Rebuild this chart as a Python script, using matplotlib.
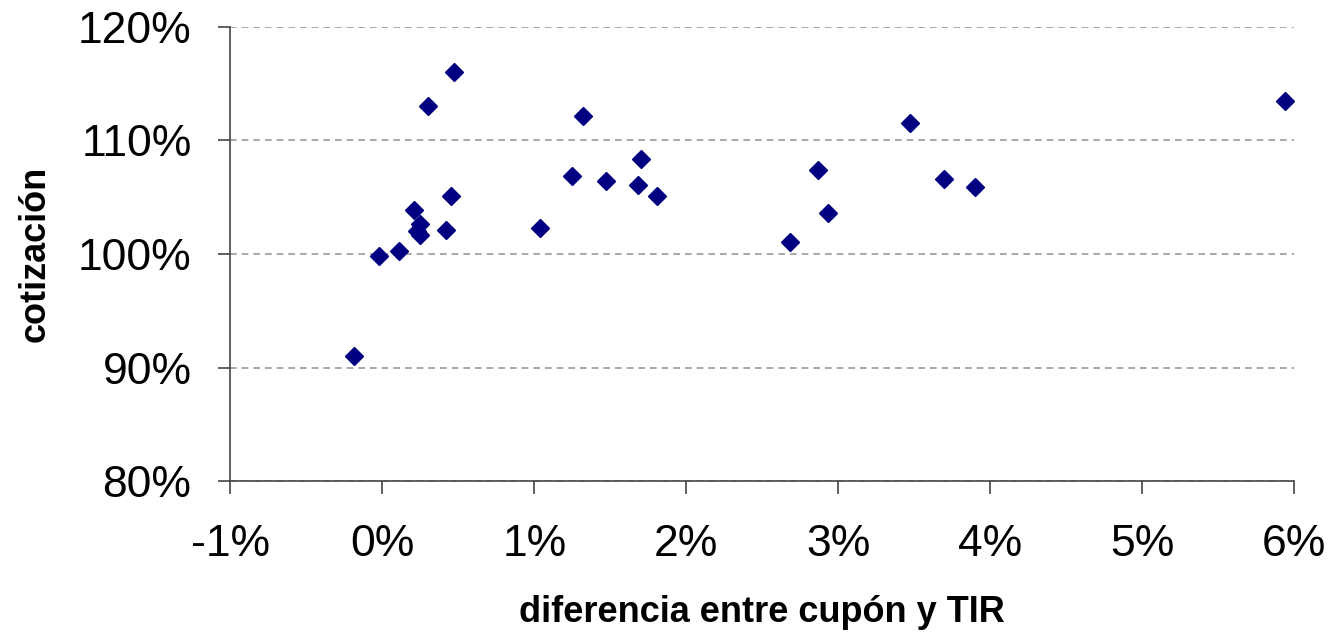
import numpy as np
import matplotlib.pyplot as plt
from matplotlib.ticker import FuncFormatter

# diferencia entre cupón y TIR (%) vs cotización (%)
diferencia = [-0.19, -0.02, 0.11, 0.21, 0.25, 0.23, 0.25, 0.42, 0.45, 0.30, 0.47,
              1.04, 1.25, 1.32, 1.47, 1.68, 1.70, 1.81,
              2.68, 2.87, 2.93, 3.47, 3.70, 3.90, 5.94]
cotizacion = [91.0, 99.8, 100.3, 103.9, 102.6, 102.0, 101.7, 102.1, 105.1, 113.0, 116.0,
              102.3, 106.9, 112.2, 106.4, 106.1, 108.4, 105.1,
              101.1, 107.4, 103.6, 111.5, 106.6, 105.9, 113.5]

xticks = [-1, 0, 1, 2, 3, 4, 5, 6]
yticks = [80, 90, 100, 110, 120]

plt.rcParams['font.family'] = ['Liberation Sans', 'DejaVu Sans']

fig = plt.figure(figsize=(13.36, 6.35), dpi=100)
ax = fig.add_axes([0.1725, 0.2425, 0.7960, 0.7150])

ax.plot(diferencia, cotizacion, linestyle='none', marker='D', markersize=9.5,
        color='#000080', markeredgecolor='#000080')

ax.set_xlim(-1, 6)
ax.set_ylim(80, 120)
ax.set_xticks(xticks)
ax.set_yticks(yticks)
pct = FuncFormatter(lambda v, pos: '%d%%' % round(v))
ax.xaxis.set_major_formatter(pct)
ax.yaxis.set_major_formatter(pct)

# dashed horizontal grid only
ax.yaxis.grid(True, linestyle=(0, (4, 3)), color='#999999', linewidth=1.2)
ax.set_axisbelow(True)

for s in ['top', 'right']:
    ax.spines[s].set_visible(False)
for s in ['left', 'bottom']:
    ax.spines[s].set_color('#444444')
    ax.spines[s].set_linewidth(1.2)

ax.tick_params(axis='both', direction='out', length=9, width=1.2, color='#444444',
               labelsize=32)
ax.tick_params(axis='x', pad=22)
ax.tick_params(axis='y', pad=19)

ax.set_xlabel('diferencia entre cupón y TIR', fontsize=26, fontweight='bold')
ax.set_ylabel('cotización', fontsize=26, fontweight='bold')
ax.xaxis.set_label_coords(0.5, -0.252)
ax.yaxis.set_label_coords(-0.167, 0.5)

fig.savefig('out.png', dpi=100)
